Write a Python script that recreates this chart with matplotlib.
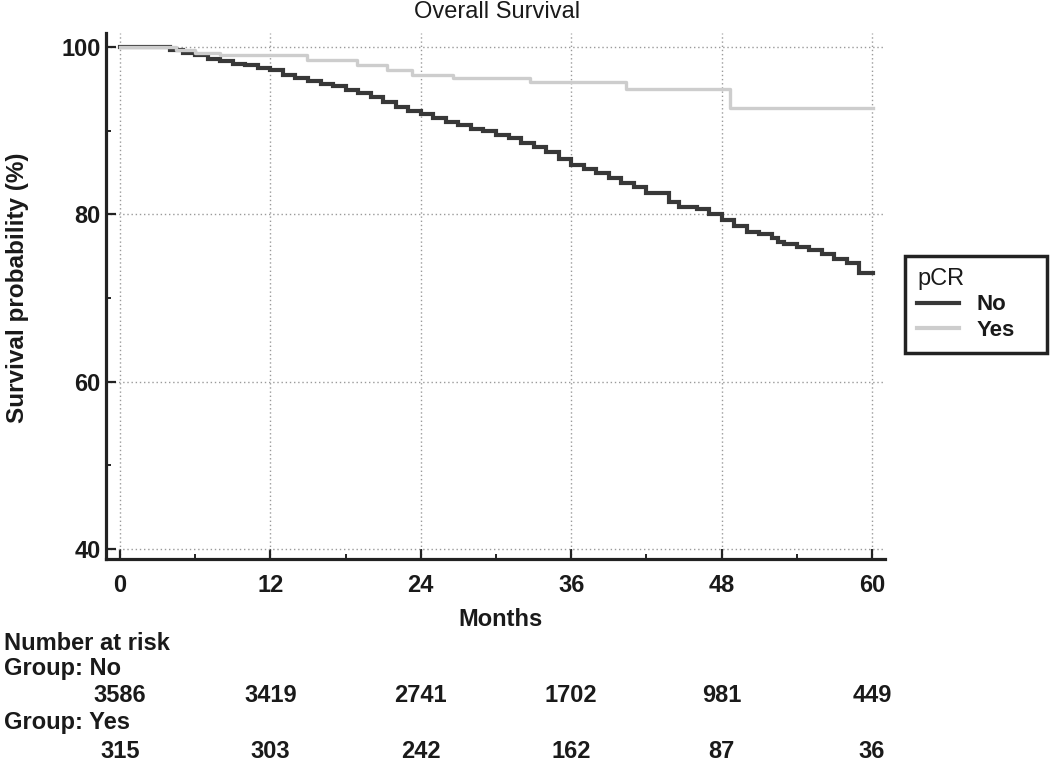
import matplotlib
matplotlib.use("Agg")
import matplotlib.pyplot as plt
from matplotlib.transforms import blended_transform_factory
from matplotlib.ticker import MultipleLocator

# ---------------- data ----------------
t_no = [0, 4.0, 5, 6, 7, 8, 9, 10, 11, 12, 13, 14, 15, 16, 17, 18, 19, 20,
        21, 22, 23, 24, 25, 26, 27, 28, 29, 30, 31, 32, 33, 34, 35, 36, 37,
        38, 39, 40, 41, 42, 43.8, 44.6, 46, 47, 48, 49, 50, 51, 52, 52.5, 53,
        54, 55, 56, 57, 58, 59, 60.1]
s_no = [100, 99.6, 99.3, 99.0, 98.6, 98.3, 98.0, 97.8, 97.5, 97.2, 96.7,
        96.3, 95.9, 95.6, 95.3, 94.9, 94.5, 94.0, 93.4, 92.8, 92.4, 92.0,
        91.5, 91.0, 90.7, 90.2, 89.9, 89.5, 89.1, 88.5, 88.0, 87.4, 86.6,
        85.9, 85.4, 84.9, 84.3, 83.8, 83.3, 82.5, 81.5, 80.9, 80.6, 80.0,
        79.3, 78.6, 77.9, 77.6, 77.2, 76.7, 76.4, 76.1, 75.7, 75.2, 74.6,
        74.2, 73.0, 73.0]

t_yes = [0, 4.5, 6, 8, 14.9, 18.9, 21.3, 23.3, 26.6, 32.7, 40.4, 48.7, 60.1]
s_yes = [100, 99.6, 99.3, 99.0, 98.45, 97.85, 97.25, 96.65, 96.25, 95.85,
         95.0, 92.75, 92.75]

group_names = ["No", "Yes"]
risk_times = [0, 12, 24, 36, 48, 60]
risk_no = [3586, 3419, 2741, 1702, 981, 449]
risk_yes = [315, 303, 242, 162, 87, 36]

x_ticks = [0, 12, 24, 36, 48, 60]
y_ticks = [40, 60, 80, 100]

# ---------------- style ----------------
plt.rcParams['font.family'] = ['Liberation Sans', 'DejaVu Sans']
TXT = '#1a1a1a'
DARK = '#383838'
LIGHT = '#cdcdcd'

W, H = 1050, 767
fig = plt.figure(figsize=(W / 100, H / 100), dpi=100)
ax = fig.add_axes([106 / W, 1 - 559 / H, (885 - 106) / W, (559 - 33) / H])

ax.step(t_no, s_no, where='post', color=DARK, lw=3.0, label=group_names[0],
        solid_joinstyle='miter', zorder=3)
ax.step(t_yes, s_yes, where='post', color=LIGHT, lw=2.4, label=group_names[1],
        zorder=4)

ax.set_xlim(-1.12, 61.04)
ax.set_ylim(38.8, 101.67)
ax.set_xticks(x_ticks)
ax.set_yticks(y_ticks)
ax.xaxis.set_minor_locator(MultipleLocator(6))
ax.yaxis.set_minor_locator(MultipleLocator(10))

ax.grid(True, which='major', linestyle=(0, (1, 2)), color='#9a9a9a', lw=1.0)
ax.set_axisbelow(True)

for side in ['top', 'right']:
    ax.spines[side].set_visible(False)
for side in ['left', 'bottom']:
    ax.spines[side].set_linewidth(2.3)
    ax.spines[side].set_color('#222222')

ax.tick_params(which='major', direction='in', length=7.5, width=1.6,
               color='#222222', labelsize=17, labelcolor=TXT)
ax.tick_params(which='minor', direction='in', length=3.5, width=1.4,
               color='#222222')
ax.tick_params(axis='x', which='major', pad=11)
ax.tick_params(axis='y', which='major', pad=4)
for lab in ax.get_xticklabels() + ax.get_yticklabels():
    lab.set_fontweight('bold')

# title and axis labels
fig.text(497 / W, 1 - 12 / H, 'Overall Survival', ha='center', va='center',
         fontsize=17, color=TXT)
fig.text(500 / W, 1 - 620 / H, 'Months', ha='center', va='center',
         fontsize=17, fontweight='bold', color=TXT)
fig.text(18 / W, 1 - 288 / H, 'Survival probability (%)', ha='center',
         va='center', rotation=90, fontsize=17.5, fontweight='bold', color=TXT)

# legend
leg = ax.legend(title='pCR', loc='lower left',
                bbox_to_anchor=(905 / W, 1 - 353 / H, 142 / W, 98 / H),
                bbox_transform=fig.transFigure, mode='expand',
                borderaxespad=0, fancybox=False, framealpha=1,
                edgecolor='#222222', handlelength=1.9, handletextpad=0.75,
                borderpad=0.55, labelspacing=0.2,
                prop={'size': 16, 'weight': 'bold'},
                title_fontproperties={'size': 17}, alignment='left')
leg.get_frame().set_linewidth(2.5)
for txt in leg.get_texts():
    txt.set_color(TXT)
leg.get_title().set_color(TXT)
for ln in leg.get_lines():
    ln.set_linewidth(3.0)

# number at risk table
tr = blended_transform_factory(ax.transData, fig.transFigure)
fig.text(4 / W, 1 - 643 / H, 'Number at risk', ha='left', va='center',
         fontsize=17, fontweight='bold', color=TXT)
fig.text(4 / W, 1 - 669 / H, 'Group: ' + group_names[0], ha='left',
         va='center', fontsize=17, fontweight='bold', color=TXT)
fig.text(4 / W, 1 - 723 / H, 'Group: ' + group_names[1], ha='left',
         va='center', fontsize=17, fontweight='bold', color=TXT)
for tt, n in zip(risk_times, risk_no):
    ax.text(tt, 1 - 696 / H, str(n), transform=tr, ha='center', va='center',
            fontsize=17, fontweight='bold', color=TXT, clip_on=False)
for tt, n in zip(risk_times, risk_yes):
    ax.text(tt, 1 - 751 / H, str(n), transform=tr, ha='center', va='center',
            fontsize=17, fontweight='bold', color=TXT, clip_on=False)

fig.savefig('out.png', dpi=100, facecolor='white')
